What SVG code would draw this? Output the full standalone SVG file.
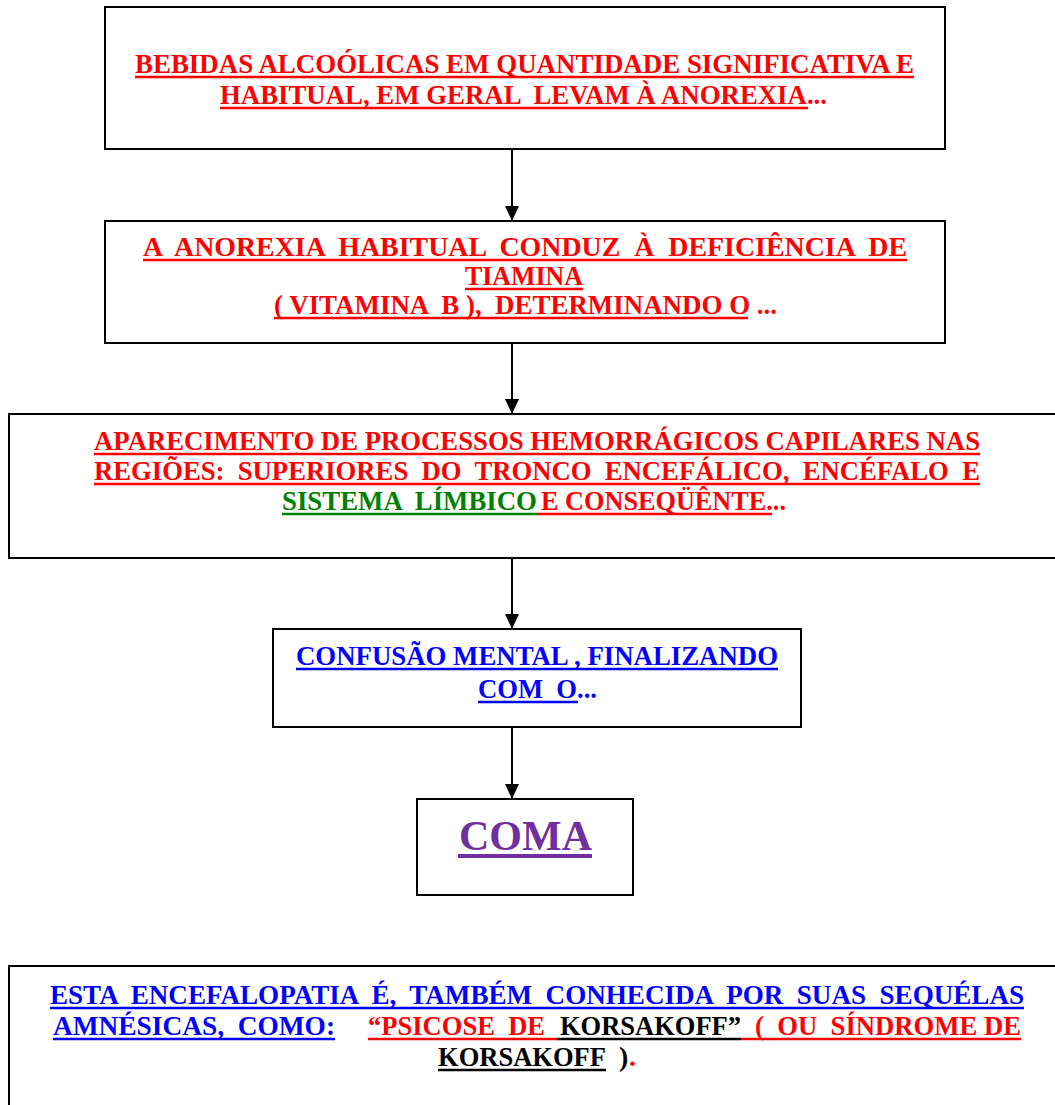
<svg xmlns="http://www.w3.org/2000/svg" width="1055" height="1105" viewBox="0 0 1055 1105" xml:space="preserve">
  <style>
    .box { fill: #fff; stroke: #000; stroke-width: 2; }
    .t { font-family: "Liberation Serif", "Times New Roman", serif; font-weight: bold; font-size: 28px; white-space: pre; }
    .n { font-size: 27px; }
    .big { font-size: 42px; }
    .red { fill: #ff0000; }
    .blue { fill: #0000ff; }
    .green { fill: #008000; }
    .black { fill: #000; }
    .purple { fill: #7030a0; }
    .ul { stroke-width: 2.5; }
    .conn { stroke: #000; stroke-width: 2; fill: none; marker-end: url(#arrow); }
  </style>
  <defs>
    <marker id="arrow" markerWidth="15" markerHeight="14" refX="15" refY="7" orient="auto" markerUnits="userSpaceOnUse" viewBox="0 0 15 14">
      <path d="M0,0 L15,7 L0,14 Z" fill="#000"/>
    </marker>
  </defs>
  <rect width="1055" height="1105" fill="#fff"/>

  <!-- connectors between the steps -->
  <g id="connectors">
    <line class="conn" x1="512" y1="149" x2="512" y2="221"/>
    <line class="conn" x1="512" y1="343" x2="512" y2="414"/>
    <line class="conn" x1="512" y1="558" x2="512" y2="629"/>
    <line class="conn" x1="512" y1="727" x2="512" y2="799"/>
  </g>

  <!-- step 1 -->
  <g id="node-bebidas">
    <rect class="box" x="105" y="7" width="840" height="142"/>
    <text class="t red" x="135" y="73" textLength="779" lengthAdjust="spacingAndGlyphs">BEBIDAS ALCOÓLICAS EM QUANTIDADE SIGNIFICATIVA E</text>
    <line class="ul" stroke="#ff0000" x1="135" y1="77" x2="914" y2="77"/>
    <text class="t red" x="220" y="104" textLength="607" lengthAdjust="spacingAndGlyphs">HABITUAL, EM GERAL  LEVAM À ANOREXIA...</text>
    <line class="ul" stroke="#ff0000" x1="220" y1="108" x2="808" y2="108"/>
  </g>

  <!-- step 2 -->
  <g id="node-anorexia">
    <rect class="box" x="105" y="221" width="840" height="122"/>
    <text class="t red" x="143" y="256" textLength="764" lengthAdjust="spacingAndGlyphs">A  ANOREXIA  HABITUAL  CONDUZ  À  DEFICIÊNCIA  DE</text>
    <line class="ul" stroke="#ff0000" x1="143" y1="260" x2="907" y2="260"/>
    <text class="t red" x="465" y="285" textLength="118" lengthAdjust="spacingAndGlyphs">TIAMINA</text>
    <line class="ul" stroke="#ff0000" x1="465" y1="289" x2="583" y2="289"/>
    <text class="t red" x="274" y="314" textLength="503" lengthAdjust="spacingAndGlyphs">( VITAMINA  B ),  DETERMINANDO O ...</text>
    <line class="ul" stroke="#ff0000" x1="274" y1="318" x2="748" y2="318"/>
  </g>

  <!-- step 3 -->
  <g id="node-hemorragia">
    <rect class="box" x="9" y="414" width="1060" height="144"/>
    <text class="t red" x="94" y="450" textLength="886" lengthAdjust="spacingAndGlyphs">APARECIMENTO DE PROCESSOS HEMORRÁGICOS CAPILARES NAS</text>
    <line class="ul" stroke="#ff0000" x1="94" y1="454" x2="980" y2="454"/>
    <text class="t red" x="94" y="480" textLength="886" lengthAdjust="spacingAndGlyphs">REGIÕES:  SUPERIORES  DO  TRONCO  ENCEFÁLICO,  ENCÉFALO  E</text>
    <line class="ul" stroke="#ff0000" x1="94" y1="484" x2="980" y2="484"/>
    <text class="t green" x="282" y="510" textLength="255" lengthAdjust="spacingAndGlyphs">SISTEMA  LÍMBICO</text>
    <line class="ul" stroke="#008000" x1="282" y1="514" x2="537" y2="514"/>
    <text class="t red" x="541" y="510" textLength="245" lengthAdjust="spacingAndGlyphs">E CONSEQÜÊNTE...</text>
    <line class="ul" stroke="#ff0000" x1="537" y1="514" x2="772" y2="514"/>
  </g>

  <!-- step 4 -->
  <g id="node-confusao">
    <rect class="box" x="273" y="629" width="528" height="98"/>
    <text class="t n blue" x="296" y="665" textLength="482" lengthAdjust="spacingAndGlyphs">CONFUSÃO MENTAL , FINALIZANDO</text>
    <line class="ul" stroke="#0000ff" x1="296" y1="669" x2="778" y2="669"/>
    <text class="t n blue" x="478" y="698" textLength="119" lengthAdjust="spacingAndGlyphs">COM  O...</text>
    <line class="ul" stroke="#0000ff" x1="478" y1="702" x2="578" y2="702"/>
  </g>

  <!-- step 5 -->
  <g id="node-coma">
    <rect class="box" x="417" y="799" width="216" height="96"/>
    <text class="t big purple" x="459" y="850" textLength="133" lengthAdjust="spacingAndGlyphs">COMA</text>
    <line stroke="#7030a0" stroke-width="4" x1="458" y1="856" x2="592" y2="856"/>
  </g>

  <!-- closing note -->
  <g id="node-korsakoff">
    <rect class="box" x="9" y="966" width="1060" height="150"/>
    <!-- long first line: drawn narrowed so it stays inside the box -->
    <text class="t blue" transform="scale(0.85 1)" x="58.82" y="1004" textLength="1145.9" lengthAdjust="spacingAndGlyphs">ESTA  ENCEFALOPATIA  É,  TAMBÉM  CONHECIDA  POR  SUAS  SEQUÉLAS</text>
    <line class="ul" stroke="#0000ff" x1="50" y1="1008" x2="1024" y2="1008"/>
    <text class="t blue" x="53" y="1035" textLength="282" lengthAdjust="spacingAndGlyphs">AMNÉSICAS,  COMO:</text>
    <line class="ul" stroke="#0000ff" x1="53" y1="1039" x2="335" y2="1039"/>
    <text class="t red" x="368" y="1035" textLength="177" lengthAdjust="spacingAndGlyphs">“PSICOSE  DE</text>
    <line class="ul" stroke="#ff0000" x1="368" y1="1039" x2="557" y2="1039"/>
    <text class="t black" x="560" y="1035" textLength="181" lengthAdjust="spacingAndGlyphs">KORSAKOFF”</text>
    <line class="ul" stroke="#000" x1="557" y1="1039" x2="741" y2="1039"/>
    <text class="t red" x="755" y="1035" textLength="266" lengthAdjust="spacingAndGlyphs">(  OU  SÍNDROME DE</text>
    <line class="ul" stroke="#ff0000" x1="741" y1="1039" x2="1021" y2="1039"/>
    <text class="t black" x="438" y="1066" textLength="168" lengthAdjust="spacingAndGlyphs">KORSAKOFF</text>
    <line class="ul" stroke="#000" x1="438" y1="1070" x2="606" y2="1070"/>
    <text class="t black" x="619" y="1066">)</text>
    <text class="t red" x="629" y="1066">.</text>
  </g>
</svg>
